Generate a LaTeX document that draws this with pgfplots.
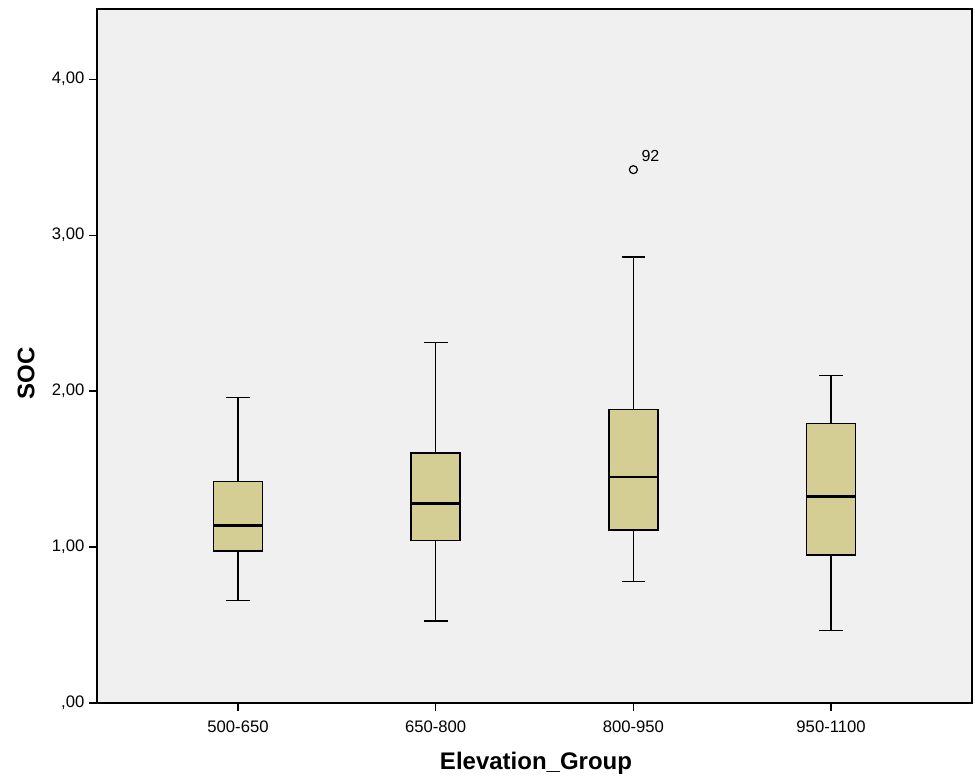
\documentclass[border=0pt]{standalone}
\usepackage{pgfplots}
\pgfplotsset{compat=1.18}
\usepgfplotslibrary{statistics}
\usepackage{fontspec}
\setmainfont{Liberation Sans}
\definecolor{boxfill}{RGB}{212,206,148}
\definecolor{bg}{RGB}{240,240,240}
\begin{document}
\begin{tikzpicture}
\begin{axis}[
  scale only axis, width=656.25pt, height=520.5pt,
  xmin=0.287, xmax=4.713, ymin=0, ymax=4.45,
  clip=false,
  tick pos=left, tick align=outside, major tick length=6pt,
  tick style={black, line width=0.9pt},
  axis background/.style={fill=bg},
  axis line style={black, line width=1.3pt},
  xtick={1,2,3,4},
  xticklabels={500-650,650-800,800-950,950-1100},
  ytick={0,1,2,3,4},
  yticklabels={{,00},{1,00},{2,00},{3,00},{4,00}},
  ticklabel style={font=\fontsize{12.5}{15}\selectfont, black},
  xticklabel style={yshift=-3.5pt},
  xlabel={Elevation\_Group}, ylabel={SOC},
  label style={font=\fontsize{18}{21}\selectfont\bfseries},
  xlabel style={at={(rel axis cs:0.5017,-0.087)}, anchor=center},
  ylabel style={at={(rel axis cs:-0.081,0.4755)}, anchor=center},
  boxplot/draw direction=y,
  boxplot/every box/.style={draw=black, fill=boxfill, line width=1.2pt},
  boxplot/every whisker/.style={draw=black, line width=1pt},
  boxplot/every median/.style={draw=black, line width=2.2pt},
  boxplot/box extend=0.248,
  boxplot/whisker extend=0.12,
]
\addplot[draw=black, fill=boxfill, boxplot prepared={draw position=1, lower whisker=0.658, lower quartile=0.974, median=1.137, upper quartile=1.42, upper whisker=1.96}] coordinates {};
\addplot[draw=black, fill=boxfill, boxplot prepared={draw position=2, lower whisker=0.526, lower quartile=1.043, median=1.278, upper quartile=1.605, upper whisker=2.31}] coordinates {};
\addplot[draw=black, fill=boxfill, mark=o, mark options={black, solid, line width=0.9pt, mark size=3pt}, boxplot prepared={draw position=3, lower whisker=0.78, lower quartile=1.109, median=1.449, upper quartile=1.883, upper whisker=2.86}] table[row sep=\\, y index=0] {y\\ 3.42\\};
\addplot[draw=black, fill=boxfill, boxplot prepared={draw position=4, lower whisker=0.466, lower quartile=0.949, median=1.327, upper quartile=1.793, upper whisker=2.10}] coordinates {};
\node[anchor=south west, inner sep=0pt, font=\fontsize{12}{14}\selectfont] at (axis cs:3.04,3.47) {92};
\path (rel axis cs:-0.1109,-0.1052) rectangle (rel axis cs:1.0034,1.0130);
\end{axis}
\end{tikzpicture}
\end{document}
